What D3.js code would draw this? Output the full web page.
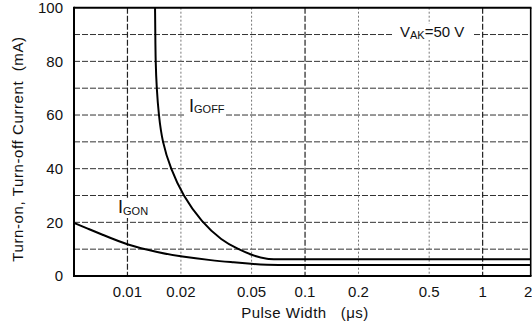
<!DOCTYPE html>
<html><head><meta charset="utf-8">
<script src="https://cdn.jsdelivr.net/npm/d3@7"></script>
<style>
html,body{margin:0;padding:0;background:#fff;}
text{font-family:"Liberation Sans",Arial,Helvetica,sans-serif;fill:#111;}
</style></head>
<body><svg id="c" width="532" height="334"></svg>
<script>
// ---- data ----
const xTicks = [0.01, 0.02, 0.05, 0.1, 0.2, 0.5, 1, 2];
const xTickLabels = ["0.01", "0.02", "0.05", "0.1", "0.2", "0.5", "1", "2"];
const yTicks = [0, 20, 40, 60, 80, 100];
const yGrid = [10, 20, 30, 40, 50, 60, 70, 80, 90];
const igoffX = [0.0143, 0.01435, 0.0144, 0.0146, 0.0150, 0.0157, 0.0175, 0.0205, 0.0262, 0.034, 0.042, 0.05, 0.06, 0.08, 0.2, 2];
const igoffY = [100, 90, 80, 70, 60, 50, 40, 30, 20, 13.2, 10, 7.8, 6.2, 6.2, 6.2, 6.2];
const igonX = [0.00493, 0.006, 0.007, 0.01, 0.015, 0.02, 0.03, 0.04, 0.05, 0.06, 0.08, 0.2, 2];
const igonY = [19.8, 17.6, 15.8, 11.5, 8.8, 7.2, 5.8, 5.1, 4.5, 4.2, 4.1, 4.1, 4.1];

const svg = d3.select("#c");
const L = 74, R = 530.7, T = 7.7, B = 276;
const x = d3.scaleLog().domain([0.005, 1.865]).range([L, R]).clamp(true);
const y = d3.scaleLinear().domain([0, 100]).range([B, T]);

svg.append("defs").append("clipPath").attr("id","clip")
  .append("rect").attr("x",L).attr("y",T).attr("width",R-L).attr("height",B-T);

// grid
svg.append("g").selectAll("line").data(yGrid).join("line")
  .attr("x1",L).attr("x2",R).attr("y1",d=>y(d)).attr("y2",d=>y(d))
  .attr("stroke","#333").attr("stroke-width",1).attr("stroke-dasharray","6,2");
const decades = [0.01, 0.1, 1];
svg.append("g").selectAll("line").data(xTicks.filter(d=>d<1.8)).join("line")
  .attr("x1",d=>x(d)).attr("x2",d=>x(d)).attr("y1",T).attr("y2",B)
  .attr("stroke",d=>decades.includes(d)?"#222":"#777")
  .attr("stroke-width",d=>decades.includes(d)?1.2:1)
  .attr("stroke-dasharray",d=>decades.includes(d)?"6,2":"2,2");

// label backgrounds
function bg(x0,y0,w,h){svg.append("rect").attr("x",x0).attr("y",y0).attr("width",w).attr("height",h).attr("fill","#fff");}
bg(184,95,41,22);
bg(394,24,79,16);
bg(116,198,32,20);

// curves
const line = d3.line().x(d=>x(d[0])).y(d=>y(d[1])).curve(d3.curveBasis);
const g = svg.append("g").attr("clip-path","url(#clip)");
g.append("path").datum(d3.zip(igoffX, igoffY)).attr("d",line)
  .attr("fill","none").attr("stroke","#000").attr("stroke-width",2);
g.append("path").datum(d3.zip(igonX, igonY)).attr("d",line)
  .attr("fill","none").attr("stroke","#000").attr("stroke-width",2);

// frame
svg.append("line").attr("x1",L).attr("x2",R+0.8).attr("y1",T).attr("y2",T).attr("stroke","#000").attr("stroke-width",2);
svg.append("line").attr("x1",L).attr("x2",R+0.8).attr("y1",B).attr("y2",B).attr("stroke","#000").attr("stroke-width",2);
svg.append("line").attr("x1",L).attr("x2",L).attr("y1",T-1).attr("y2",B+1).attr("stroke","#000").attr("stroke-width",2);
svg.append("line").attr("x1",R).attr("x2",R).attr("y1",T).attr("y2",B).attr("stroke","#000").attr("stroke-width",1.6);

// tick labels
svg.append("g").selectAll("text").data(xTicks).join("text")
  .attr("x",(d,i)=>i===xTicks.length-1 ? x(d)-2.5 : x(d)).attr("y",297)
  .attr("text-anchor","middle").attr("font-size",15)
  .text((d,i)=>xTickLabels[i]);
svg.append("g").selectAll("text").data(yTicks).join("text")
  .attr("x",63).attr("y",d=>y(d)).attr("dy","0.36em")
  .attr("text-anchor","end").attr("font-size",15).text(d=>d);

// axis titles
svg.append("text").attr("x",305).attr("y",318).attr("text-anchor","middle")
  .attr("font-size",15).attr("letter-spacing",0.5).style("white-space","pre")
  .text("Pulse Width   (\u03bcs)");
svg.append("text").attr("transform","translate(23,149) rotate(-90)")
  .attr("text-anchor","middle").attr("font-size",15).attr("letter-spacing",0.6)
  .style("white-space","pre").text("Turn-on, Turn-off Current  (mA)");

// annotations
function sub(x0,y0,main,s,mainSize,subSize,dy){
  const t = svg.append("text").attr("x",x0).attr("y",y0).attr("font-size",mainSize);
  t.append("tspan").text(main);
  t.append("tspan").attr("font-size",subSize).attr("dy",dy).text(s);
  return t;
}
sub(189,112,"I","GOFF",18,11,1);
sub(118,213,"I","GON",18,11,2);
const v = svg.append("text").attr("x",400).attr("y",37).attr("font-size",15);
v.append("tspan").text("V");
v.append("tspan").attr("font-size",11).attr("dy",2).text("AK");
v.append("tspan").attr("dy",-2).text("=50 V");
</script></body></html>
